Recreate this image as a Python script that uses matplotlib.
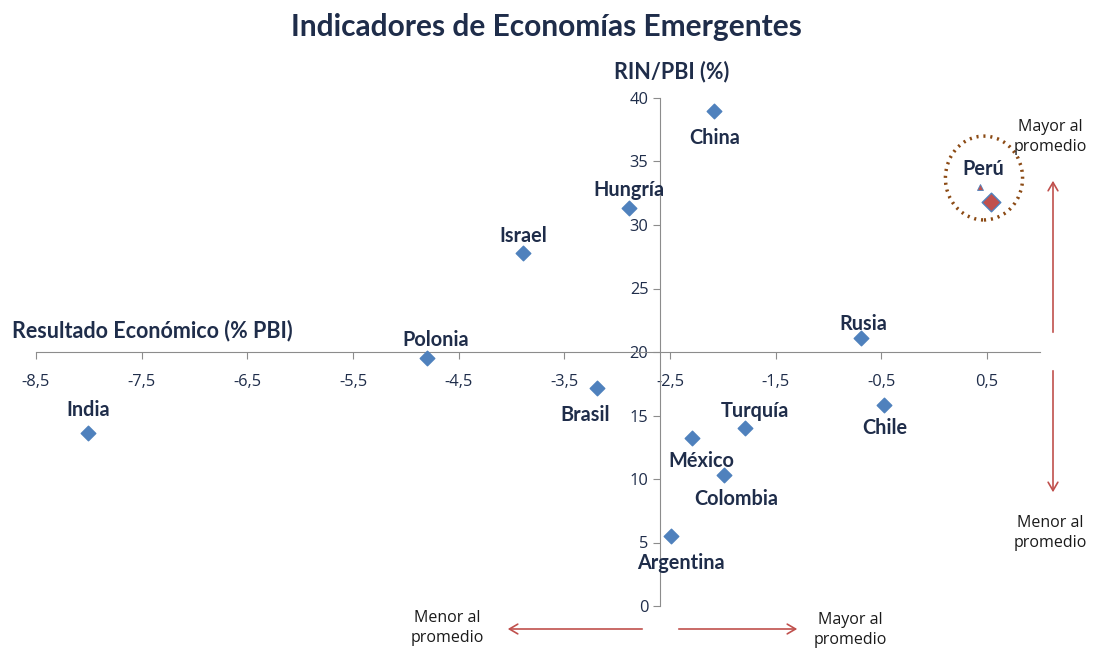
import matplotlib
matplotlib.use("Agg")
import matplotlib.pyplot as plt
from matplotlib.patches import Ellipse

# data: resultado economico (% PBI) vs RIN/PBI (%)
paises = ['China', 'Hungría', 'Israel', 'Polonia', 'Brasil', 'India', 'Rusia',
          'Chile', 'Turquía', 'México', 'Colombia', 'Argentina']
resultado = [-2.08, -2.89, -3.89, -4.80, -3.19, -8.01, -0.69,
             -0.48, -1.79, -2.29, -1.99, -2.49]
rin_pbi = [39.0, 31.3, 27.8, 19.5, 17.2, 13.6, 21.1,
           15.8, 14.0, 13.2, 10.3, 5.5]
peru_x, peru_y = 0.54, 31.8
xticks = [-8.5, -7.5, -6.5, -5.5, -4.5, -3.5, -2.5, -1.5, -0.5, 0.5]
yticks = [0, 5, 10, 15, 20, 25, 30, 35, 40]

# label offsets in pixels (dx, dy)
offsets = [(0, -27), (0, 18), (0, 17), (9, 18), (-12, -27), (0, 23), (2, 14),
           (1, -23), (10, 17), (9, -23), (12, -24), (10, -27)]

navy = '#1F2D4A'
red = '#C0504D'
blue = '#4F81BD'
plt.rcParams['font.family'] = ['Lato', 'DejaVu Sans']

W, H = 1094, 651
fig = plt.figure(figsize=(W / 100, H / 100), dpi=100)
ax = fig.add_axes([36 / W, 45 / H, 1004 / W, 508 / H])
ax.set_xlim(-8.5, 1.0)
ax.set_ylim(0, 40)

ax.scatter(resultado, rin_pbi, marker='D', s=55, color=blue, zorder=3, clip_on=False)
for name, x, y, (dx, dy) in zip(paises, resultado, rin_pbi, offsets):
    ax.annotate(name, (x, y), xytext=(dx, dy), textcoords='offset pixels',
                ha='center', va='center', fontsize=14.3, fontweight='bold', color=navy)

# Peru highlighted
ax.scatter([peru_x], [peru_y], marker='D', s=90, color=red, edgecolor=blue, lw=1, zorder=4)
ax.annotate('Perú', (peru_x, peru_y), xytext=(-8, 33), textcoords='offset pixels',
            ha='center', va='center', fontsize=14.3, fontweight='bold', color=navy)
ax.plot([peru_x - 0.11], [peru_y + 1.2], marker='^', ms=5, color=red,
        markeredgecolor=blue, mew=0.6, zorder=4)
ax.add_patch(Ellipse((peru_x - 0.07, peru_y + 1.9), 0.73, 6.6, fill=False,
                     ec='#8B4A14', lw=2.5, ls=(0, (0.6, 1.4)), clip_on=False))

# spines crossing at the averages
for s in ['top', 'right']:
    ax.spines[s].set_visible(False)
ax.spines['left'].set_position(('data', -2.6))
ax.spines['bottom'].set_position(('data', 20))
for s in ['left', 'bottom']:
    ax.spines[s].set_color('#8C8C8C')
ax.set_xticks(xticks)
ax.set_xticklabels([f'{t:.1f}'.replace('.', ',') for t in xticks])
ax.set_yticks(yticks)
ax.tick_params(axis='both', colors='#8C8C8C', labelcolor=navy, labelsize=12, length=5)
ax.tick_params(axis='x', pad=11)
ax.tick_params(axis='y', pad=3)
for lab in ax.get_xticklabels() + ax.get_yticklabels():
    lab.set_family(['Open Sans', 'DejaVu Sans'])
    lab.set_fontsize(11.8)

fig.text(546 / W, 1 - 27 / H, 'Indicadores de Economías Emergentes', ha='center', va='center',
         fontsize=21.5, fontweight='bold', color=navy)
fig.text(672 / W, 1 - 72 / H, 'RIN/PBI (%)', ha='center', va='center',
         fontsize=15.5, fontweight='bold', color=navy)
fig.text(12 / W, 1 - 331 / H, 'Resultado Económico (% PBI)', ha='left', va='center',
         fontsize=15.5, fontweight='bold', color=navy)

# reference arrows
def arrow(x0, y0, x1, y1):
    fig.add_artist(matplotlib.patches.FancyArrowPatch(
        (x0 / W, 1 - y0 / H), (x1 / W, 1 - y1 / H), transform=fig.transFigure,
        arrowstyle='->,head_length=6,head_width=3.5', color=red, lw=1.2))

arrow(645, 629, 505, 629)
arrow(676, 629, 800, 629)
arrow(1053, 335, 1053, 178)
arrow(1053, 368, 1053, 495)

for x, y, t in [(447, 628, 'Menor al\npromedio'), (850, 630, 'Mayor al\npromedio'),
                (1050, 137, 'Mayor al\npromedio'), (1050, 533, 'Menor al\npromedio')]:
    fig.text(x / W, 1 - y / H, t, ha='center', va='center', fontsize=11.5,
             color='#1a1a1a', linespacing=1.3, family=['Open Sans', 'DejaVu Sans'])

fig.savefig('out.png', dpi=100)
